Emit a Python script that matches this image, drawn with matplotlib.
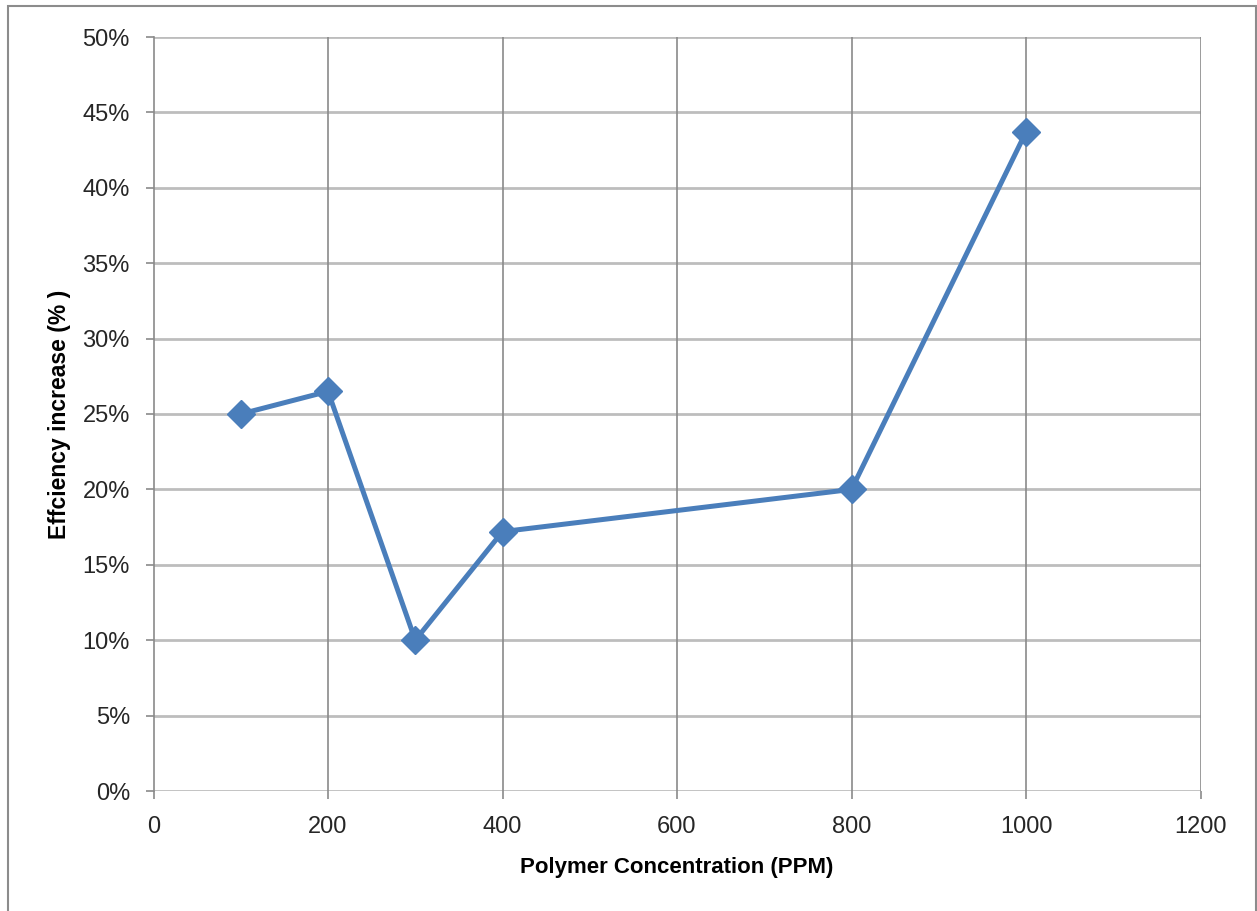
import matplotlib
matplotlib.use("Agg")
import matplotlib.pyplot as plt
from matplotlib.patches import Rectangle
from matplotlib.ticker import FuncFormatter

concentration_ppm = [100, 200, 300, 400, 800, 1000]
efficiency_pct = [25.0, 26.5, 10.0, 17.2, 20.0, 43.7]
x_ticks = [0, 200, 400, 600, 800, 1000, 1200]
y_ticks = [0, 5, 10, 15, 20, 25, 30, 35, 40, 45, 50]

plt.rcParams['font.family'] = ['Liberation Sans', 'DejaVu Sans']

W, H = 1257, 911
fig = plt.figure(figsize=(W / 100, H / 100), dpi=100)
fig.patch.set_facecolor('white')
fig.patches.append(Rectangle((8 / W, -0.05), (1256 - 8) / W, 1 - 6 / H + 0.05,
                             transform=fig.transFigure, fill=False,
                             edgecolor='#8c8c8c', linewidth=1.5))

ax = fig.add_axes([153.5 / W, 1 - 791 / H, (1200.5 - 153.5) / W, (791 - 37) / H])
ax.set_xlim(0, 1200)
ax.set_ylim(0, 50)
ax.set_xticks(x_ticks)
ax.set_yticks(y_ticks)
ax.yaxis.set_major_formatter(FuncFormatter(lambda v, p: f"{int(v)}%"))

for s in ['top', 'right', 'bottom']:
    ax.spines[s].set_visible(False)
ax.spines['left'].set_color('#8a8a8a')
ax.spines['left'].set_linewidth(1.2)

for y in y_ticks:
    ax.axhline(y, color='#bdbdbd', linewidth=2.0, zorder=1)
for x in x_ticks[1:]:
    ax.axvline(x, color='#8a8a8a', linewidth=1.2, zorder=1)

ax.tick_params(axis='both', direction='out', length=6, width=1.2, color='#8a8a8a',
               labelsize=17, labelcolor='#262626', pad=12)
ax.tick_params(axis='y', pad=11)

ax.plot(concentration_ppm, efficiency_pct, color='#4a7ebb', linewidth=3.6,
        marker='D', markersize=14, markeredgecolor='#4a7ebb', zorder=3,
        solid_joinstyle='round')

ax.set_xlabel('Polymer Concentration (PPM)', fontsize=16, fontweight='bold',
              labelpad=14, color='black')
ax.set_ylabel('Effciency increase (% )', fontsize=16.5, fontweight='bold',
              labelpad=8, color='black')

fig.savefig('out.png', dpi=100, facecolor='white')
